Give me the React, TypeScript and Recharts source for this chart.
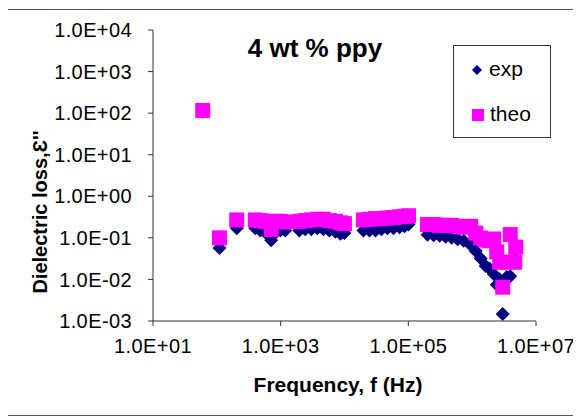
import React from "react";
import { ScatterChart, Scatter, XAxis, YAxis, Legend } from "recharts";

// Measurement frequencies (Hz)
const frequencyHz = [
  60, 110, 205, 400, 480, 575, 710, 820, 990, 1180,
  1960, 2430, 3020, 3750, 4670, 5800, 7200, 8630, 9960,
  19800, 24600, 30600, 37900, 47100, 58600, 72800, 87100, 100700,
  200000, 249000, 309000, 384000, 477000, 592000, 736000,
  948000, 1135000, 1360000, 1630000, 1880000, 2180000, 2430000, 2700000,
  3010000, 3480000, 3950000, 4650000, 4820000,
];

// Experimental dielectric loss
const expLoss = [
  108, 0.057, 0.17, 0.17, 0.15, 0.135, 0.088, 0.13, 0.15, 0.15,
  0.15, 0.16, 0.16, 0.17, 0.16, 0.15, 0.14, 0.125, 0.13,
  0.15, 0.15, 0.15, 0.16, 0.17, 0.17, 0.18, 0.19, 0.21,
  0.118, 0.115, 0.113, 0.107, 0.1, 0.092, 0.085,
  0.067, 0.048, 0.032, 0.021, 0.018, 0.0135, 0.0074, 0.01,
  0.00148, 0.0115, 0.012, 0.026, 0.05,
];

// Theoretical dielectric loss
const theoLoss = [
  116, 0.1, 0.27, 0.27, 0.26, 0.25, 0.16, 0.25, 0.25, 0.24,
  0.25, 0.26, 0.27, 0.28, 0.28, 0.26, 0.25, 0.23, 0.22,
  0.27, 0.28, 0.29, 0.29, 0.3, 0.31, 0.32, 0.33, 0.34,
  0.21, 0.21, 0.2, 0.2, 0.2, 0.19, 0.18,
  0.19, 0.13, 0.099, 0.089, 0.085, 0.094, 0.046, 0.026,
  0.0065, 0.026, 0.12, 0.026, 0.06,
];

const xTicks = [1e1, 1e3, 1e5, 1e7];
const yTicks = [1e-3, 1e-2, 1e-1, 1e0, 1e1, 1e2, 1e3, 1e4];

const seriesNames = ["exp", "theo"];
const title = "4 wt % ppy";
const xTitle = "Frequency, f (Hz)";
const yTitle = "Dielectric loss,\u0190''";

const EXP_COLOR = "#000080";
const THEO_COLOR = "#FF00FF";
const FONT = "'Liberation Sans', Arial, sans-serif";

const expData = frequencyHz.map((f, i) => ({ f, v: expLoss[i] }));
const theoData = frequencyHz.map((f, i) => ({ f, v: theoLoss[i] }));

// 1.0E+04 style labels
const sci = (v: number) => {
  const [m, e] = v.toExponential(1).split("e");
  const n = parseInt(e, 10);
  const sign = n < 0 ? "-" : "+";
  const mag = Math.abs(n).toString().padStart(2, "0");
  return `${m.toUpperCase()}E${sign}${mag}`;
};

const tickStyle = { fill: "#000", fontSize: 20, fontFamily: FONT, letterSpacing: 0.4 };

const DiamondShape = (props: any) => {
  const { cx, cy } = props;
  if (cx == null || cy == null) return null;
  const r = 7;
  return (
    <polygon
      points={`${cx},${cy - r} ${cx + r},${cy} ${cx},${cy + r} ${cx - r},${cy}`}
      fill={EXP_COLOR}
    />
  );
};

const SquareShape = (props: any) => {
  const { cx, cy } = props;
  if (cx == null || cy == null) return null;
  return <rect x={cx - 7.5} y={cy - 7.5} width={15} height={15} fill={THEO_COLOR} />;
};

const LegendBox = () => (
  <div
    style={{
      position: "relative",
      width: 96,
      height: 91,
      border: "1px solid #333",
      background: "#fff",
      fontFamily: FONT,
      fontSize: 21,
      color: "#000",
    }}
  >
    <svg width={20} height={20} style={{ position: "absolute", left: 13, top: 14 }}>
      <polygon points="10,5 15,10 10,15 5,10" fill={EXP_COLOR} />
    </svg>
    <span style={{ position: "absolute", left: 35, top: 11, lineHeight: "24px" }}>
      {seriesNames[0]}
    </span>
    <svg width={20} height={20} style={{ position: "absolute", left: 14, top: 59 }}>
      <rect x={4} y={4} width={12} height={12} fill={THEO_COLOR} />
    </svg>
    <span style={{ position: "absolute", left: 36, top: 56, lineHeight: "24px" }}>
      {seriesNames[1]}
    </span>
  </div>
);

export default function App() {
  return (
    <div
      style={{
        position: "relative",
        width: 572,
        height: 405,
        marginLeft: -1,
        marginTop: 1,
        border: "1px solid #555",
        background: "#fff",
      }}
    >
      <ScatterChart
        width={572}
        height={405}
        margin={{ top: 20, right: 44, bottom: 37, left: 0 }}
      >
        <XAxis
          type="number"
          dataKey="f"
          scale="log"
          domain={[1e1, 1e7]}
          ticks={xTicks}
          allowDataOverflow
          tickFormatter={sci}
          height={57}
          tickSize={5}
          tickMargin={13}
          stroke="#333"
          tick={tickStyle}
        />
        <YAxis
          type="number"
          dataKey="v"
          scale="log"
          domain={[1e-3, 1e4]}
          ticks={yTicks}
          allowDataOverflow
          tickFormatter={sci}
          width={145}
          tickSize={5}
          tickMargin={16}
          stroke="#333"
          tick={tickStyle}
        />
        <Scatter
          name={seriesNames[0]}
          data={expData}
          shape={DiamondShape}
          fill={EXP_COLOR}
          isAnimationActive={false}
        />
        <Scatter
          name={seriesNames[1]}
          data={theoData}
          shape={SquareShape}
          fill={THEO_COLOR}
          isAnimationActive={false}
        />
        <Legend
          layout="vertical"
          align="center"
          verticalAlign="middle"
          wrapperStyle={{ left: 445, top: 35, width: 98 }}
          content={() => <LegendBox />}
        />
        <text
          x={307}
          y={47}
          textAnchor="middle"
          fontFamily={FONT}
          fontWeight="bold"
          fontSize={26}
          fill="#000"
        >
          {title}
        </text>
        <text
          x={330}
          y={382}
          textAnchor="middle"
          fontFamily={FONT}
          fontWeight="bold"
          fontSize={21}
          fill="#000"
        >
          {xTitle}
        </text>
        <text
          x={39}
          y={202}
          transform="rotate(-90, 39, 202)"
          textAnchor="middle"
          fontFamily={FONT}
          fontWeight="bold"
          fontSize={20}
          fill="#000"
        >
          {yTitle}
        </text>
      </ScatterChart>
    </div>
  );
}
